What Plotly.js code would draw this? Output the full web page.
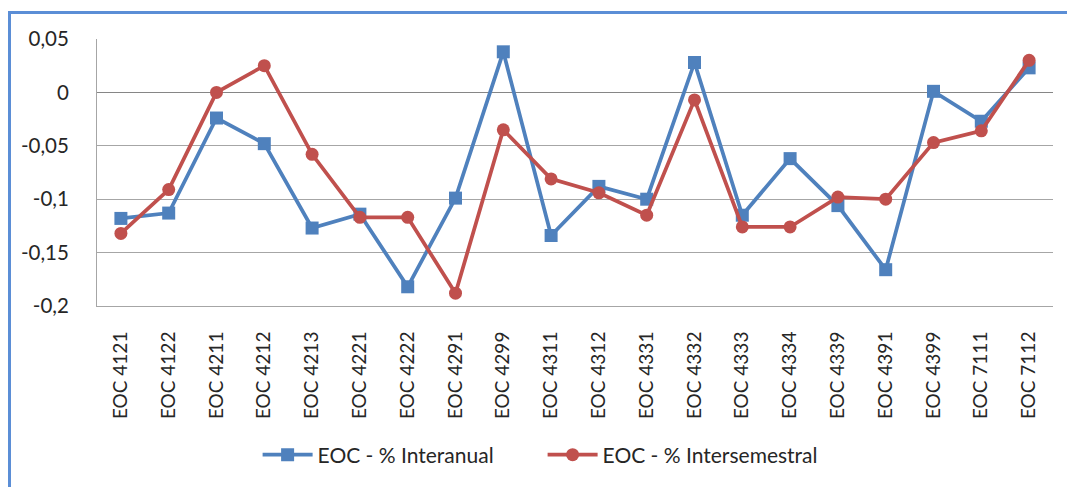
<!DOCTYPE html>
<html>
<head>
<meta charset="utf-8">
<script src="https://cdn.plot.ly/plotly-3.0.1.min.js"></script>
<style>
  html, body { margin: 0; padding: 0; background: #fff; }
  #wrap { position: relative; width: 1067px; height: 487px; overflow: hidden; }
  #frame { position: absolute; left: 8px; top: 11px; width: 1059px; height: 476px;
           border-top: 3px solid #5B8ED6; border-left: 3px solid #5B8ED6; box-sizing: border-box;
           pointer-events: none; z-index: 2; }
  #chart { position: absolute; left: 0; top: 0; width: 1067px; height: 487px; }
</style>
</head>
<body>
<div id="wrap">
  <div id="chart"></div>
  <div id="frame"></div>
</div>
<script>
const categories = ["EOC 4121","EOC 4122","EOC 4211","EOC 4212","EOC 4213","EOC 4221","EOC 4222","EOC 4291","EOC 4299","EOC 4311","EOC 4312","EOC 4331","EOC 4332","EOC 4333","EOC 4334","EOC 4339","EOC 4391","EOC 4399","EOC 7111","EOC 7112"];
const interanual = [-0.118,-0.113,-0.024,-0.048,-0.127,-0.114,-0.182,-0.099,0.038,-0.134,-0.088,-0.100,0.028,-0.115,-0.062,-0.106,-0.166,0.001,-0.027,0.023];
const intersemestral = [-0.132,-0.091,0.000,0.025,-0.058,-0.117,-0.117,-0.188,-0.035,-0.081,-0.094,-0.115,-0.007,-0.126,-0.126,-0.098,-0.100,-0.047,-0.036,0.030];
const yTickVals = [-0.2,-0.15,-0.1,-0.05,0,0.05];
const yTickText = ["-0,2","-0,15","-0,1","-0,05","0","0,05"];

const traces = [
  { x: categories, y: interanual, name: "EOC - % Interanual", type: "scatter", mode: "lines+markers",
    line: { color: "#4F81BD", width: 3.75 }, marker: { symbol: "square", size: 13, color: "#4F81BD" } },
  { x: categories, y: intersemestral, name: "EOC - % Intersemestral", type: "scatter", mode: "lines+markers",
    line: { color: "#C0504D", width: 3.75 }, marker: { symbol: "circle", size: 13, color: "#C0504D" } }
];

const layout = {
  width: 1067, height: 487,
  margin: { l: 97, r: 14, t: 39, b: 179 },
  paper_bgcolor: "rgba(0,0,0,0)", plot_bgcolor: "rgba(0,0,0,0)",
  font: { family: "Lato, 'Open Sans', sans-serif", size: 18, color: "#262626" },
  showlegend: true,
  legend: { orientation: "h", x: 0.168, xanchor: "left", y: -0.558, yanchor: "middle",
            font: { size: 21, color: "#262626" }, itemwidth: 50, traceorder: "normal",
            entrywidth: 220, entrywidthmode: "pixels" },
  xaxis: { type: "category", tickangle: -90, showgrid: false, showline: true, linecolor: "#A6A6A6",
           linewidth: 1, ticks: "", ticklabelstandoff: 17, zeroline: false, fixedrange: true,
           tickfont: { size: 19 }, range: [-0.5, categories.length - 0.5] },
  yaxis: { range: [-0.2, 0.05], tickvals: yTickVals, ticktext: yTickText, showgrid: true,
           gridcolor: "#A6A6A6", gridwidth: 1, zeroline: true, zerolinecolor: "#868686", zerolinewidth: 1.5,
           showline: true, linecolor: "#A6A6A6", linewidth: 1, ticks: "", ticklabelstandoff: 23,
           tickfont: { size: 20.5 }, fixedrange: true }
};

Plotly.newPlot("chart", traces, layout, { displayModeBar: false, staticPlot: true });
</script>
</body>
</html>
